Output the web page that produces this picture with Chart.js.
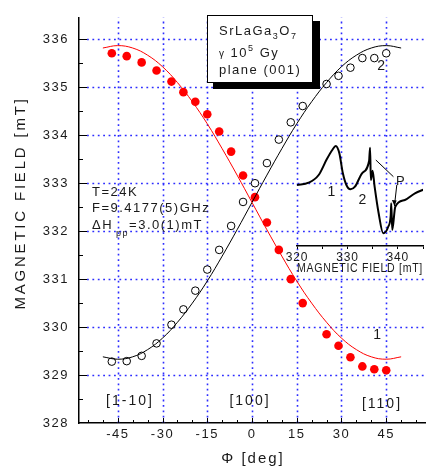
<!DOCTYPE html>
<html>
<head>
<meta charset="utf-8">
<script src="https://cdn.jsdelivr.net/npm/chart.js@4"></script>
<style>
  body { margin: 0; background: #fff; overflow: hidden; }
  #wrap { position: relative; width: 430px; height: 471px; }
  #main { position: absolute; left: 0; top: 0; }
  #inset { position: absolute; left: 280px; top: 130px; }
</style>
</head>
<body>
<div id="wrap">
  <canvas id="main" width="430" height="471"></canvas>
  <canvas id="inset" width="160" height="150"></canvas>
</div>
<script>
// measured angles (deg) and resonance fields (mT)
const angleDeg = [-47, -42, -37, -32, -27, -23, -19, -15, -11, -7, -3, 1, 5, 9, 13, 17, 25, 29, 33, 37, 41, 45];
const field1 = [335.71, 335.65, 335.52, 335.35, 335.12, 334.90, 334.70, 334.44, 334.08, 333.66, 333.16, 332.71,
                332.18, 331.61, 331.00, 330.50, 329.85, 329.61, 329.37, 329.18, 329.12, 329.10];
const field2 = [329.28, 329.29, 329.40, 329.66, 330.05, 330.37, 330.76, 331.20, 331.61, 332.11, 332.61, 333.00,
                333.42, 333.91, 334.27, 334.61, 335.07, 335.24, 335.41, 335.61, 335.61, 335.71];

// fitted curves
const fitAngle = [-50, -45, -40, -35, -30, -25, -20, -15, -10, -5, 0, 5, 10, 15, 20, 25, 30, 35, 40, 45, 50];
const fit1 = [335.82, 335.87, 335.82, 335.67, 335.43, 335.10, 334.70, 334.24, 333.72, 333.17, 332.60,
              332.03, 331.48, 330.96, 330.50, 330.10, 329.77, 329.53, 329.38, 329.33, 329.38];
const fit2 = [329.38, 329.33, 329.38, 329.53, 329.77, 330.10, 330.50, 330.96, 331.48, 332.03, 332.60,
              333.17, 333.72, 334.24, 334.70, 335.10, 335.43, 335.67, 335.82, 335.87, 335.82];

// inset EPR spectrum (field in mT, signal in arb. units)
const specField = [320.0, 322.3, 324.3, 325.9, 327.0, 327.7, 328.4, 329.1, 329.8, 330.6, 331.5, 332.9, 334.3,
                   334.5, 334.65, 335.0, 335.4, 336.2, 337.1, 338.1, 338.6, 338.7, 338.9, 339.5, 341.4, 343.4, 345.3];
const specSignal = [5, 7.3, 15, 30.7, 40, 44, 36.7, 16.7, 5, 0.7, 3.3, 16.7, 29,
                    42.3, 10, 19.3, 3.3, -23.3, -43.3, -36.7, -25, -13.3, -40, -16.7, -10, -3.3, 0.7];

const xTickLabels = [-45, -30, -15, 0, 15, 30, 45];
const yTickLabels = [328, 329, 330, 331, 332, 333, 334, 335, 336];
const insetTickLabels = [320, 330, 340];

const FONT = '"Liberation Sans", Arial, sans-serif';
const INK = '#1a1a1a';
const GRID = '#2d2dff';

function pairs(xs, ys) {
  return xs.map((x, i) => ({ x: x, y: ys[i] }));
}

function text(ctx, s, x, y, size, align) {
  ctx.font = size + 'px ' + FONT;
  ctx.textAlign = align || 'left';
  ctx.fillText(s, x, y);
  return ctx.measureText(s).width;
}

const mainDeco = {
  id: 'mainDeco',
  beforeDraw(chart) {
    chart.ctx.letterSpacing = '1.5px';
  },
  beforeDatasetsDraw(chart) {
    // dotted grid on the labelled ticks
    const ctx = chart.ctx;
    const xs = chart.scales.x, ys = chart.scales.y;
    const a = chart.chartArea;
    ctx.save();
    ctx.strokeStyle = GRID;
    ctx.lineWidth = 1.6;
    ctx.setLineDash([1.8, 3.6]);
    xTickLabels.forEach(v => {
      const px = Math.round(xs.getPixelForValue(v)) + 0.5;
      ctx.beginPath(); ctx.moveTo(px, a.bottom); ctx.lineTo(px, a.top); ctx.stroke();
    });
    yTickLabels.forEach(v => {
      if (v === 328) return;
      const py = Math.round(ys.getPixelForValue(v)) + 0.5;
      ctx.beginPath(); ctx.moveTo(a.left + 8, py); ctx.lineTo(a.right, py); ctx.stroke();
    });
    ctx.restore();
  },
  afterDatasetsDraw(chart) {
    const ctx = chart.ctx;
    const xs = chart.scales.x, ys = chart.scales.y;
    const a = chart.chartArea;
    ctx.save();
    ctx.strokeStyle = '#000';
    ctx.lineWidth = 1;
    // inward tick marks
    for (let v = -55; v <= 55; v += 5) {
      const px = Math.round(xs.getPixelForValue(v)) + 0.5;
      const len = v % 15 === 0 ? 5 : 3;
      ctx.beginPath(); ctx.moveTo(px, a.bottom); ctx.lineTo(px, a.bottom - len); ctx.stroke();
    }
    for (let v = 328.5; v <= 336; v += 0.5) {
      const py = Math.round(ys.getPixelForValue(v)) + 0.5;
      const len = v % 1 === 0 ? 8 : 4;
      ctx.beginPath(); ctx.moveTo(a.left, py); ctx.lineTo(a.left + len, py); ctx.stroke();
    }

    ctx.fillStyle = INK;
    ctx.textBaseline = 'alphabetic';
    ctx.letterSpacing = '1.5px';

    // experiment parameters
    text(ctx, 'T=24K', 92, 196, 13);
    text(ctx, 'F=9.4177(5)GHz', 92, 212, 13);
    let x = 92;
    x += text(ctx, '\u0394H', x, 229, 13);
    x += text(ctx, 'pp', x + 3, 236, 9) + 3;
    text(ctx, '=3.0(1)mT', x, 229, 13);

    // curve labels
    text(ctx, '1', 378, 339, 14, 'center');
    text(ctx, '2', 382, 70, 14, 'center');

    // crystal directions
    ctx.letterSpacing = '2px';
    text(ctx, '[1-10]', 130, 405, 14, 'center');
    text(ctx, '[100]', 250, 405, 14, 'center');
    text(ctx, '[110]', 382, 408, 14, 'center');

    // sample box with shadow
    ctx.fillStyle = '#000';
    ctx.fillRect(213, 21, 107, 68);
    ctx.fillStyle = '#fff';
    ctx.fillRect(207, 15, 106, 68);
    ctx.strokeStyle = '#000';
    ctx.lineWidth = 1;
    ctx.strokeRect(207.5, 15.5, 105, 67);
    ctx.fillStyle = INK;
    ctx.letterSpacing = '1.5px';
    x = 219;
    x += text(ctx, 'SrLaGa', x, 35, 13);
    x += text(ctx, '3', x, 39, 9);
    x += text(ctx, 'O', x, 35, 13);
    text(ctx, '7', x, 39, 9);
    x = 219;
    x += text(ctx, '\u03b3', x, 57, 10);
    x += text(ctx, ' 10', x, 57, 13);
    x += text(ctx, '5', x, 51, 9);
    text(ctx, ' Gy', x, 57, 13);
    text(ctx, 'plane (001)', 219, 74, 13);

    // axis titles
    ctx.letterSpacing = '2px';
    text(ctx, '\u03a6 [deg]', 253, 463, 15, 'center');
    ctx.translate(25, 203);
    ctx.rotate(-Math.PI / 2);
    ctx.letterSpacing = '2.8px';
    text(ctx, 'MAGNETIC FIELD [mT]', 0, 0, 15, 'center');
    ctx.restore();
  }
};

new Chart(document.getElementById('main'), {
  type: 'scatter',
  data: {
    datasets: [
      {
        label: 'fit 1',
        data: pairs(fitAngle, fit1),
        showLine: true,
        borderColor: '#ff0000',
        borderWidth: 1,
        pointRadius: 0,
        tension: 0.4,
        fill: false
      },
      {
        label: 'fit 2',
        data: pairs(fitAngle, fit2),
        showLine: true,
        borderColor: '#000',
        borderWidth: 1,
        pointRadius: 0,
        tension: 0.4,
        fill: false
      },
      {
        label: 'line 1',
        data: pairs(angleDeg, field1),
        pointRadius: 4.3,
        pointBackgroundColor: '#ff0000',
        pointBorderColor: '#ff0000',
        pointBorderWidth: 0
      },
      {
        label: 'line 2',
        data: pairs(angleDeg, field2),
        pointRadius: 3.8,
        pointBackgroundColor: '#fff',
        pointBorderColor: '#000',
        pointBorderWidth: 1
      }
    ]
  },
  options: {
    responsive: false,
    devicePixelRatio: 1,
    animation: false,
    layout: { padding: { top: 9, right: 3, left: 0, bottom: 0 } },
    plugins: { legend: { display: false }, tooltip: { enabled: false } },
    scales: {
      x: {
        type: 'linear',
        min: -58,
        max: 58,
        afterFit(scale) { scale.height = 48; },
        afterBuildTicks(scale) {
          scale.ticks = xTickLabels.map(v => ({ value: v }));
        },
        ticks: {
          color: INK,
          font: { family: FONT, size: 13 },
          padding: 4,
          maxRotation: 0,
          callback: v => String(v)
        },
        grid: { display: false, drawTicks: false },
        border: { color: '#000', width: 1.5 }
      },
      y: {
        type: 'linear',
        min: 328,
        max: 336.45,
        afterFit(scale) { scale.width = 79; },
        afterBuildTicks(scale) {
          scale.ticks = yTickLabels.map(v => ({ value: v }));
        },
        ticks: {
          color: INK,
          font: { family: FONT, size: 13 },
          padding: 10,
          callback: v => String(v)
        },
        grid: { display: false, drawTicks: false },
        border: { color: '#000', width: 1.5 }
      }
    }
  },
  plugins: [mainDeco]
});

const insetDeco = {
  id: 'insetDeco',
  beforeDraw(chart) {
    chart.ctx.letterSpacing = '0.8px';
  },
  afterDatasetsDraw(chart) {
    const ctx = chart.ctx;
    const xs = chart.scales.x, ys = chart.scales.y;
    const px = v => xs.getPixelForValue(v), py = v => ys.getPixelForValue(v);
    ctx.save();
    ctx.fillStyle = INK;
    ctx.letterSpacing = '1px';
    text(ctx, '1', px(326.9), py(-1) + 5, 14, 'center');
    text(ctx, '2', px(333.05), py(-9.3) + 5, 14, 'center');
    text(ctx, 'P', px(340.6), py(10) + 5, 13, 'center');
    ctx.strokeStyle = '#000';
    ctx.lineWidth = 1;
    ctx.beginPath();
    ctx.moveTo(px(335.64), py(30));
    ctx.lineTo(px(339.13), py(13.3));
    ctx.moveTo(px(339.8), py(5));
    ctx.lineTo(px(339.33), py(-16));
    ctx.stroke();
    // arrow head
    const hx = px(339.33), hy = py(-16);
    ctx.beginPath();
    ctx.moveTo(hx, hy);
    ctx.lineTo(hx - 2.5, hy - 6);
    ctx.lineTo(hx + 2.2, hy - 5.5);
    ctx.closePath();
    ctx.fillStyle = '#000';
    ctx.fill();
    ctx.restore();
  }
};

new Chart(document.getElementById('inset'), {
  type: 'scatter',
  data: {
    datasets: [{
      label: 'EPR spectrum',
      data: pairs(specField, specSignal),
      showLine: true,
      borderColor: '#000',
      borderWidth: 2,
      pointRadius: 0,
      cubicInterpolationMode: 'monotone',
      fill: false
    }]
  },
  options: {
    responsive: false,
    devicePixelRatio: 1,
    animation: false,
    layout: { padding: { top: 10, left: 17, right: 17, bottom: 0 } },
    plugins: { legend: { display: false }, tooltip: { enabled: false } },
    scales: {
      x: {
        type: 'linear',
        min: 320,
        max: 345,
        afterFit(scale) { scale.height = 34; },
        ticks: {
          stepSize: 5,
          color: INK,
          font: { family: FONT, size: 12 },
          padding: 1,
          maxRotation: 0,
          callback: v => insetTickLabels.includes(v) ? String(v) : ''
        },
        grid: { drawOnChartArea: false, drawTicks: true, tickLength: 3, tickColor: '#000' },
        border: { color: '#000', width: 1.5 },
        title: {
          display: true,
          text: 'MAGNETIC FIELD [mT]',
          color: INK,
          font: { family: FONT, size: 12 },
          padding: { top: 0, bottom: 4 }
        }
      },
      y: { display: false, min: -56, max: 50 }
    }
  },
  plugins: [insetDeco]
});
</script>
</body>
</html>
